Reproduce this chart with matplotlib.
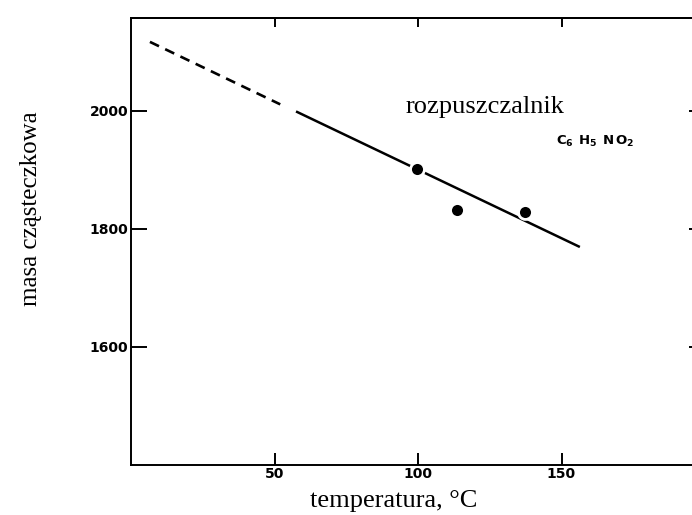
import numpy as np
import matplotlib
matplotlib.use("Agg")
import matplotlib.pyplot as plt

# pomiary: temperatura [C] i masa czasteczkowa
temp_pts = [99.5, 113.6, 137.3]
masa_pts = [1901, 1831, 1829]

# prosta dopasowana: czesc ekstrapolowana (przerywana) i czesc zmierzona
ext_x = [6.6, 52.0]
ext_y = [2117, 2011]
fit_x = [57.5, 156.4]
fit_y = [1999, 1769]

xticks = [50, 100, 150]
yticks = [1600, 1800, 2000]

serif = ["Liberation Serif", "DejaVu Serif"]
plt.rcParams['mathtext.fontset'] = 'dejavusans'

fig = plt.figure(figsize=(6.92, 5.15), dpi=100)
ax = fig.add_axes([131/692, 50.5/515, 574/692, 446.2/515])

ax.plot(ext_x, ext_y, color='black', lw=1.9, dashes=[3.8, 2.6], solid_capstyle='butt')
ax.plot(fit_x, fit_y, color='black', lw=1.8, solid_capstyle='butt')
ax.plot(temp_pts, masa_pts, 'o', color='black', ms=10, mec='white', mew=2, zorder=3)

ax.set_xlim(0, 200)
ax.set_ylim(1400, 2157)

ax.set_xticks(xticks)
ax.set_yticks(yticks)
ax.set_xticklabels([str(v) for v in xticks], fontweight='bold', fontsize=10)
ax.set_yticklabels([str(v) for v in yticks], fontweight='bold', fontsize=10)
ax.tick_params(axis='x', direction='in', length=8.6, width=1.4, pad=2, top=False)
ax.tick_params(axis='y', direction='in', length=11.5, width=1.4, pad=2, right=True)

top = ax.secondary_xaxis('top')
top.set_xticks(xticks)
top.tick_params(direction='in', length=6.5, width=1.4, labeltop=False)
top.spines['top'].set_linewidth(1.4)

for s in ax.spines.values():
    s.set_linewidth(1.4)
ax.spines['right'].set_visible(False)

ax.text(95.5, 1996.6, "rozpuszczalnik", family=serif, fontsize=19, va='baseline')
ax.text(148, 1942.5, r"$\mathbf{C_6\;\, H_5\;\, N\,O_2}$", fontsize=9.5, va='baseline')

fig.text(31/692, 1 - 209/515, "masa cząsteczkowa", family=serif, fontsize=18,
         rotation=90, ha='center', va='center')
fig.text(393.5/692, 1 - 507/515, "temperatura, °C", family=serif, fontsize=19,
         ha='center', va='baseline')

fig.savefig("out.png", dpi=100)
